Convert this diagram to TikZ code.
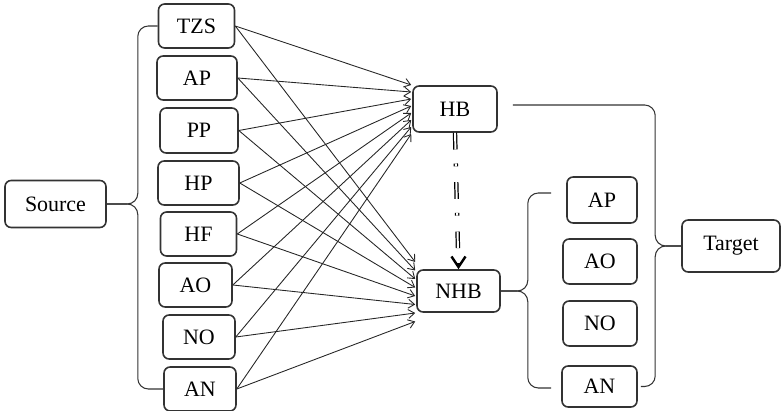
\documentclass[tikz,border=0pt]{standalone}
\usepackage{fontspec}
\newfontfamily\boxfont{Liberation Serif}
\usetikzlibrary{calc,arrows.meta}
\begin{document}
\begin{tikzpicture}[
  x=0.02cm, y=-0.02cm,
  box/.style={rectangle,draw=black!80,line width=0.9pt,rounded corners=3.5pt,
              minimum width=1.52cm,minimum height=0.88cm,inner sep=1pt,
              font=\boxfont\fontsize{12.5}{14}\selectfont},
  fan/.style={-{Straight Barb[length=3.5pt,width=5pt]},line width=0.5pt,black!85},
  brk/.style={line width=0.6pt,black!80,rounded corners=6pt},
  dd/.style={double=white,double distance=1.1pt,line width=0.7pt,black,
             dash pattern=on 9.5pt off 8pt on 1.6pt off 9pt,shorten >=5pt},
  tip/.style={-{Straight Barb[length=6pt,width=8pt,line width=1.4pt]},line width=1.2pt}
]
  \useasboundingbox (0,0) rectangle (782,411);

  \node[box,minimum width=2.02cm,minimum height=0.94cm] (src) at (55.5,204) {Source};

  \node[box] (tzs) at (196.5,26)  {TZS};
  \node[box,minimum width=1.6cm] (ap1) at (197,78) {AP};
  \node[box,minimum width=1.56cm,minimum height=0.9cm] (pp) at (199,130.5) {PP};
  \node[box,minimum width=1.62cm] (hp) at (198.5,183) {HP};
  \node[box] (hf) at (198.5,234) {HF};
  \node[box,minimum width=1.46cm] (ao1) at (195.5,285) {AO};
  \node[box,minimum width=1.44cm] (no1) at (199,337) {NO};
  \node[box,minimum width=1.44cm] (an1) at (200,389) {AN};

  \node[box,minimum width=1.68cm,minimum height=0.92cm] (hb)  at (455,109)   {HB};
  \node[box,minimum width=1.66cm,minimum height=0.84cm] (nhb) at (458.5,291) {NHB};

  \node[box,minimum width=1.4cm,minimum height=0.92cm]  (ap2) at (602,200)   {AP};
  \node[box,minimum width=1.48cm,minimum height=0.9cm]  (ao2) at (600,261.5) {AO};
  \node[box,minimum width=1.48cm,minimum height=0.9cm]  (no2) at (600,323.5) {NO};
  \node[box,minimum width=1.5cm,minimum height=0.82cm]  (an2) at (599.5,386.5) {AN};

  \node[box,minimum width=1.96cm,minimum height=1.04cm] (target) at (731,246) {Target};

  % source brace
  \coordinate (sb) at ($(src.east)+(31,0)$);
  \draw[brk] (tzs.west) -| (sb) -- (src.east);
  \draw[brk] (an1.west) -| (sb) -- (src.east);

  % every source feeds both HB and NHB
  \foreach \s [count=\i from 0] in {tzs,ap1,pp,hp,hf,ao1,no1,an1} {
    \draw[fan] (\s.east) -- ($(hb.west)+(-1,{-24+7*\i})$);
    \draw[fan] (\s.east) -- ($(nhb.west)+(-1,{-29+8.5*\i})$);
  }

  \draw[dd] (hb.south) -- (nhb.north);
  \draw[tip] ($(nhb.north)+(0,-6)$) -- (nhb.north);

  % NHB brace
  \coordinate (nb)   at ($(nhb.east)+(27,0)$);
  \coordinate (ntop) at ($(ap2.west)+(-15,-7)$);
  \coordinate (nbot) at ($(an2.west)+(-10,1.5)$);
  \draw[brk] (ntop) -| (nb) -- (nhb.east);
  \draw[brk] (nbot) -| (nb) -- (nhb.east);

  % target brace
  \coordinate (tb)   at ($(target.west)+(-26,0)$);
  \coordinate (ttop) at ($(hb.east)+(15,-4)$);
  \coordinate (tbot) at ($(an2.east)+(3,0)$);
  \draw[brk] (ttop) -| (tb) -- (target.west);
  \draw[brk] (tbot) -| (tb) -- (target.west);
\end{tikzpicture}
\end{document}
